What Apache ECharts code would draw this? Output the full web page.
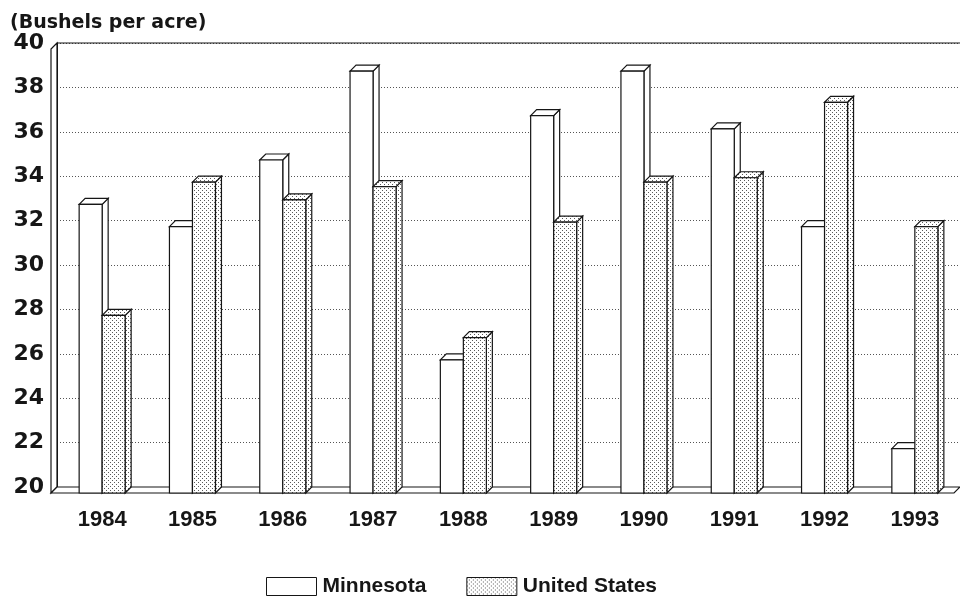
<!DOCTYPE html>
<html>
<head>
<meta charset="utf-8">
<title>Bushels per acre</title>
<script src="https://cdn.jsdelivr.net/npm/echarts@6/dist/echarts.min.js"></script>
<style>
  html, body { margin: 0; padding: 0; background: #fff; }
  #chart { width: 960px; height: 612px; }
</style>
</head>
<body>
<div id="chart"></div>
<script>
const years = ['1984', '1985', '1986', '1987', '1988', '1989', '1990', '1991', '1992', '1993']
const minnesota = [33, 32, 35, 39, 26, 37, 39, 36.4, 32, 22]
const unitedStates = [28, 34, 33.2, 33.8, 27, 32.2, 34, 34.2, 37.6, 32]
const yMin = 20
const yMax = 40
const yStep = 2

const BAR_W = 23
const DEPTH = 6
const INK = '#161616'
const WIDE = '"DejaVu Sans", Verdana, sans-serif'
const FONT = '"Liberation Sans", Arial, sans-serif'
const GRID = { left: 57, right: 0, top: 43, bottom: 125 }

// small dotted fill like the screened bars in the print
function dotPattern() {
  const c = document.createElement('canvas')
  c.width = 4
  c.height = 4
  const ctx = c.getContext('2d')
  ctx.fillStyle = '#fff'
  ctx.fillRect(0, 0, 4, 4)
  ctx.fillStyle = '#5a5a5a'
  ctx.fillRect(0, 0, 1, 1)
  ctx.fillRect(2, 2, 1, 1)
  return c
}
const dots = { image: dotPattern(), repeat: 'repeat' }

// pseudo-3D box: front face, top face and right side face
function box(side, fill) {
  return function (params, api) {
    const top = api.coord([api.value(0), api.value(1)])
    const base = api.coord([api.value(0), yMin])
    const x0 = side < 0 ? top[0] - BAR_W : top[0]
    const x1 = x0 + BAR_W
    const yt = top[1] + DEPTH
    const yb = base[1] + DEPTH
    const st = { fill: fill, stroke: INK, lineWidth: 1.2 }
    return {
      type: 'group',
      children: [
        { type: 'polygon', shape: { points: [[x1, yt], [x1 + DEPTH, yt - DEPTH], [x1 + DEPTH, yb - DEPTH], [x1, yb]] }, style: st },
        { type: 'polygon', shape: { points: [[x0, yt], [x0 + DEPTH, yt - DEPTH], [x1 + DEPTH, yt - DEPTH], [x1, yt]] }, style: st },
        { type: 'rect', shape: { x: x0, y: yt, width: BAR_W, height: yb - yt }, style: st }
      ]
    }
  }
}

const chart = echarts.init(document.getElementById('chart'))

chart.setOption({
  animation: false,
  title: {
    text: '(Bushels per acre)',
    left: 5,
    top: 9,
    textStyle: { fontFamily: WIDE, fontSize: 19, fontWeight: 'bold', color: INK }
  },
  legend: {
    left: 261,
    top: 571,
    icon: 'rect',
    itemWidth: 50,
    itemHeight: 18,
    itemGap: 40,
    selectedMode: false,
    textStyle: { fontFamily: FONT, fontSize: 21, fontWeight: 'bold', color: INK, padding: [0, 0, 0, 1] },
    data: [
      { name: 'Minnesota', itemStyle: { color: '#fff', borderColor: INK, borderWidth: 1 } },
      { name: 'United States', itemStyle: { color: dots, borderColor: INK, borderWidth: 1 } }
    ]
  },
  grid: GRID,
  xAxis: {
    type: 'category',
    data: years,
    axisLine: { show: true, lineStyle: { color: '#777', width: 1 } },
    axisTick: { show: false },
    axisLabel: { margin: 22, fontFamily: FONT, fontSize: 22, fontWeight: 'bold', color: INK }
  },
  yAxis: {
    type: 'value',
    min: yMin,
    max: yMax,
    interval: yStep,
    axisLine: { show: true, lineStyle: { color: INK, width: 1 } },
    axisTick: { show: false },
    axisLabel: { margin: 13, fontFamily: WIDE, fontSize: 22, fontWeight: 'bold', color: INK },
    splitLine: { show: true, lineStyle: { color: '#555', width: 1, type: [1, 2] } }
  },
  series: [
    {
      name: 'Minnesota',
      type: 'custom',
      renderItem: box(-1, '#fff'),
      itemStyle: { color: '#fff' },
      data: minnesota.map((v, i) => [i, v]),
      z: 3
    },
    {
      name: 'United States',
      type: 'custom',
      renderItem: box(1, dots),
      itemStyle: { color: '#bbb' },
      data: unitedStates.map((v, i) => [i, v]),
      z: 3
    }
  ]
})

// left wall, floor and the solid top frame line
const y20 = chart.convertToPixel({ yAxisIndex: 0 }, yMin)
const y40 = chart.convertToPixel({ yAxisIndex: 0 }, yMax)
const L = GRID.left
const W = chart.getWidth() - GRID.right
chart.setOption({
  graphic: [
    {
      type: 'polygon', z: 1,
      shape: { points: [[L, y40], [L - DEPTH, y40 + DEPTH], [L - DEPTH, y20 + DEPTH], [L, y20]] },
      style: { fill: '#fff', stroke: INK, lineWidth: 1.2 }
    },
    {
      type: 'polygon', z: 1,
      shape: { points: [[L, y20], [W, y20], [W - DEPTH, y20 + DEPTH], [L - DEPTH, y20 + DEPTH]] },
      style: { fill: '#fff', stroke: INK, lineWidth: 1.2 }
    },
    {
      type: 'line', z: 1,
      shape: { x1: L, y1: y40, x2: W, y2: y40 },
      style: { stroke: INK, lineWidth: 1.2 }
    }
  ]
})
</script>
</body>
</html>
